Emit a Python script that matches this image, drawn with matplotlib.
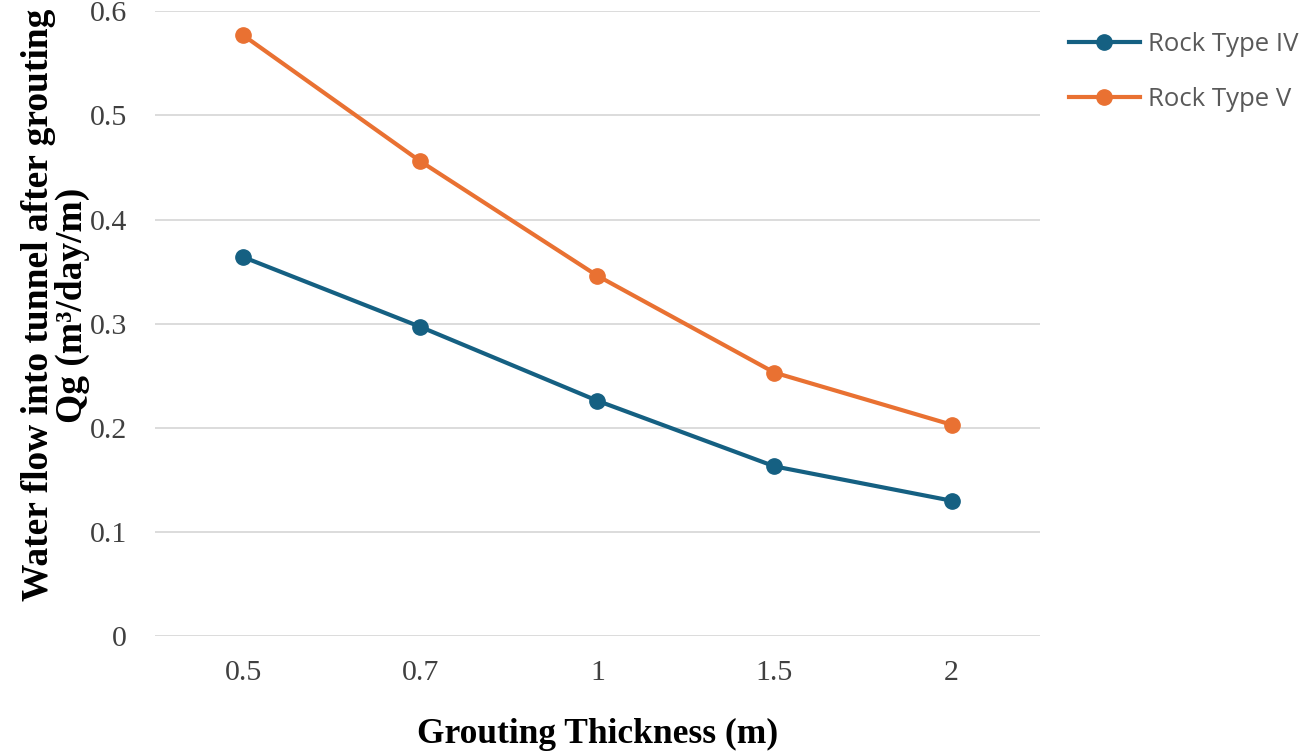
import matplotlib
matplotlib.use('Agg')
import matplotlib.pyplot as plt

thickness = ["0.5", "0.7", "1", "1.5", "2"]
rock_iv = [0.364, 0.297, 0.226, 0.163, 0.130]
rock_v = [0.577, 0.456, 0.346, 0.253, 0.203]
labels = ["Rock Type IV", "Rock Type V"]
colors = ["#156082", "#E97132"]

fig = plt.figure(figsize=(13.1, 7.51), dpi=100)
ax = fig.add_axes([0.118, 0.153, 0.676, 0.832])

x = list(range(len(thickness)))
for vals, lab, col in zip([rock_iv, rock_v], labels, colors):
    ax.plot(x, vals, marker="o", color=col, label=lab, linewidth=3, markersize=11)

ax.set_xlim(-0.5, len(thickness) - 0.5)
ax.set_ylim(0, 0.6)
ax.set_yticks([0, 0.1, 0.2, 0.3, 0.4, 0.5, 0.6])
ax.set_yticklabels(["0", "0.1", "0.2", "0.3", "0.4", "0.5", "0.6"])
ax.set_xticks(x)
ax.set_xticklabels(thickness)

for s in ax.spines.values():
    s.set_visible(False)
ax.yaxis.grid(True, color="#d9d9d9", linewidth=1.3)
ax.set_axisbelow(True)
ax.tick_params(length=0, labelsize=21.5, labelcolor="#404040")
ax.tick_params(axis="x", pad=17)
ax.tick_params(axis="y", pad=20)
for t in ax.get_xticklabels() + ax.get_yticklabels():
    t.set_family("Liberation Serif")

ax.set_xlabel("Grouting Thickness (m)", fontsize=25.5, fontweight="bold",
              family="Liberation Serif", labelpad=23)
ax.set_ylabel("Water flow into tunnel after grouting\nQg (m³/day/m)", fontsize=27,
              fontweight="bold", family="Liberation Serif", linespacing=0.95)
ax.yaxis.set_label_coords(-0.073, 0.53)

leg = ax.legend(loc="upper left", bbox_to_anchor=(0.798, 0.988), bbox_transform=fig.transFigure,
                frameon=False, handlelength=2.8, handletextpad=0.3, labelspacing=1.15,
                prop={"family": "Open Sans", "size": 18.5})
for t in leg.get_texts():
    t.set_color("#595959")

fig.savefig("out.png", dpi=100)
